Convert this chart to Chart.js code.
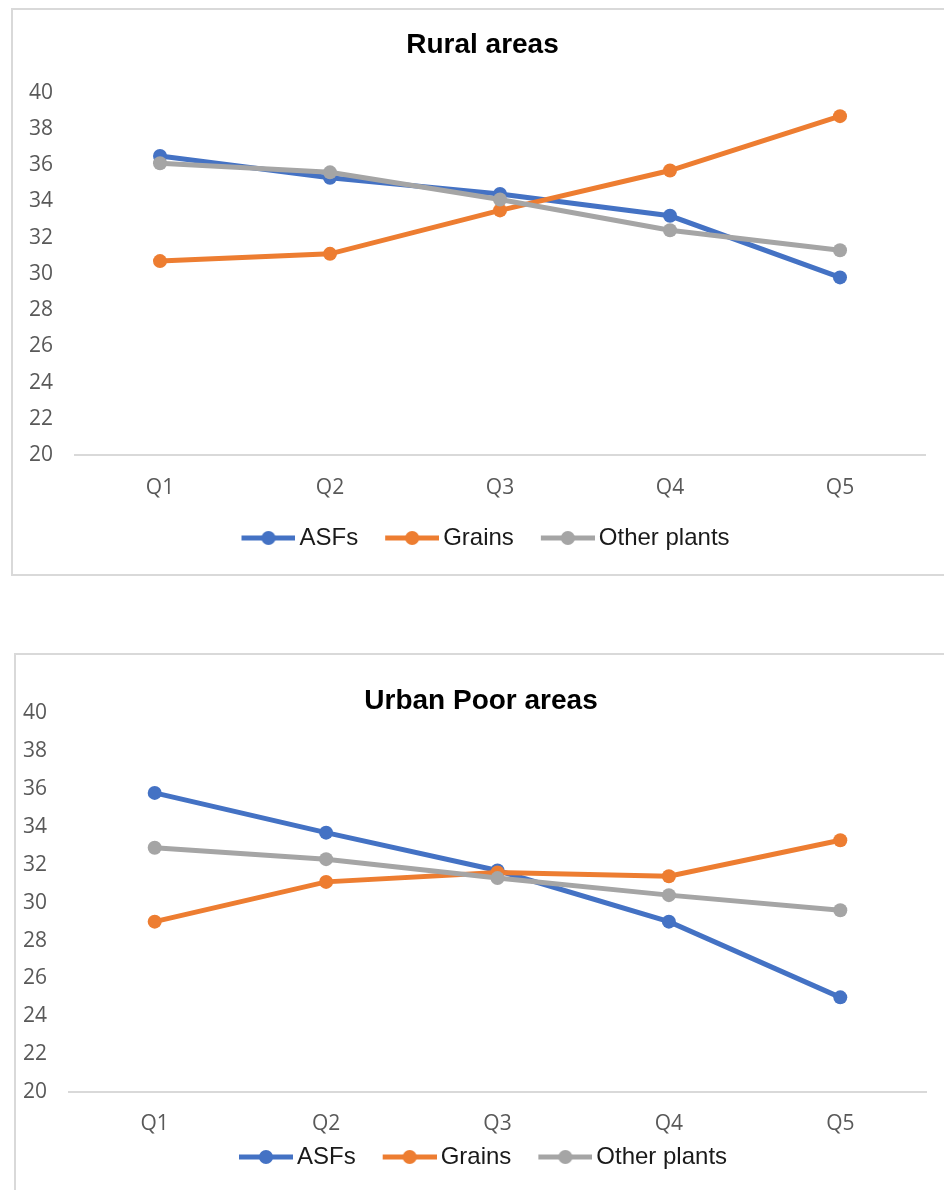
<!DOCTYPE html>
<html>
<head>
<meta charset="utf-8">
<script src="https://cdn.jsdelivr.net/npm/chart.js@4.4.1/dist/chart.umd.min.js"></script>
<style>
  html, body { margin: 0; padding: 0; background: #fff; }
  body { width: 944px; height: 1190px; overflow: hidden; position: relative; }
  .frame { position: absolute; border: 2px solid #d9d9d9; box-sizing: border-box; }
  #ruralFrame { left: 11px; top: 8px; width: 990px; height: 568px; }
  #urbanFrame { left: 14px; top: 653px; width: 990px; height: 600px; }
  canvas { position: absolute; left: 0; }
  #ruralChart { top: 0; }
  #urbanChart { top: 640px; }
</style>
</head>
<body>
<div class="frame" id="ruralFrame"></div>
<div class="frame" id="urbanFrame"></div>
<canvas id="ruralChart" width="944" height="560"></canvas>
<canvas id="urbanChart" width="944" height="550"></canvas>
<script>
const categories = ['Q1', 'Q2', 'Q3', 'Q4', 'Q5'];
const seriesNames = ['ASFs', 'Grains', 'Other plants'];
const seriesColors = ['#4472C4', '#ED7D31', '#A5A5A5'];

const ruralASFs = [36.5, 35.3, 34.4, 33.2, 29.8];
const ruralGrains = [30.7, 31.1, 33.5, 35.7, 38.7];
const ruralOther = [36.1, 35.6, 34.1, 32.4, 31.3];

const urbanASFs = [35.8, 33.7, 31.7, 29.0, 25.0];
const urbanGrains = [29.0, 31.1, 31.6, 31.4, 33.3];
const urbanOther = [32.9, 32.3, 31.3, 30.4, 29.6];

const yMin = 20, yMax = 40, yStep = 2;

// "line with a dot" legend marker; lead = empty space before the line
function legendIcon(color, lead) {
  const c = document.createElement('canvas');
  c.width = lead + 62;
  c.height = 16;
  const g = c.getContext('2d');
  const x0 = c.width - 54;
  g.strokeStyle = color;
  g.lineWidth = 5;
  g.beginPath();
  g.moveTo(x0, 8);
  g.lineTo(c.width, 8);
  g.stroke();
  g.fillStyle = color;
  g.beginPath();
  g.arc(c.width - 27, 8, 7, 0, Math.PI * 2);
  g.fill();
  return c;
}

function makeChart(id, title, values, box) {
  const ctx = document.getElementById(id).getContext('2d');
  const icons = seriesColors.map(c => legendIcon(c, box.iconLead));
  return new Chart(ctx, {
    type: 'line',
    data: {
      labels: categories,
      datasets: values.map((v, i) => ({
        label: seriesNames[i],
        data: v,
        borderColor: seriesColors[i],
        backgroundColor: seriesColors[i],
        borderWidth: 5,
        pointRadius: 7,
        pointHoverRadius: 7,
        pointBorderWidth: 0,
        tension: 0,
        // last series sits on top
        order: values.length - 1 - i
      }))
    },
    options: {
      responsive: false,
      animation: false,
      events: [],
      layout: {
        padding: { top: box.padTop, right: box.padRight, bottom: box.padBottom, left: box.padLeft }
      },
      plugins: {
        title: {
          display: true,
          text: title,
          color: '#000',
          font: { family: "'Liberation Sans', Arial, sans-serif", size: 28, weight: 'bold', lineHeight: box.titleLH },
          padding: { top: 0, bottom: box.titlePad }
        },
        legend: {
          position: 'bottom',
          labels: {
            usePointStyle: true,
            pointStyleWidth: box.iconLead + 46,
            padding: box.legendPad,
            color: '#1a1a1a',
            font: { family: "'Liberation Sans', Arial, sans-serif", size: 24 },
            generateLabels(chart) {
              const items = Chart.defaults.plugins.legend.labels.generateLabels(chart);
              items.forEach(it => { it.pointStyle = icons[it.datasetIndex]; });
              return items;
            },
            sort: (a, b) => a.datasetIndex - b.datasetIndex
          }
        },
        tooltip: { enabled: false }
      },
      scales: {
        x: {
          offset: true,
          grid: { display: false, drawTicks: false },
          border: { display: true, color: '#d9d9d9', width: 2 },
          ticks: {
            color: '#595959',
            mirror: box.xMirror,
            padding: box.xPad,
            font: { family: "'Open Sans', sans-serif", size: 21 }
          },
          afterFit(scale) { scale.height = box.xHeight; }
        },
        y: {
          min: yMin,
          max: yMax,
          grid: { display: false, drawTicks: false },
          border: { display: false },
          ticks: {
            stepSize: yStep,
            color: '#595959',
            // labels sit left of the narrow axis box
            mirror: true,
            padding: -46,
            font: { family: "'Open Sans', sans-serif", size: 21 }
          },
          afterFit(scale) { scale.width = box.yWidth; }
        }
      }
    }
  });
}

makeChart('ruralChart', 'Rural areas', [ruralASFs, ruralGrains, ruralOther], {
  padTop: 28, padRight: 19, padBottom: 0, padLeft: 40,
  titleLH: 1.2, titlePad: 31,
  yWidth: 35, legendPad: 21, iconLead: 6,
  xHeight: 50, xPad: 20, xMirror: false
});

makeChart('urbanChart', 'Urban Poor areas', [urbanASFs, urbanGrains, urbanOther], {
  padTop: 50, padRight: 18, padBottom: 11, padLeft: 36,
  titleLH: 0.8, titlePad: 1,
  yWidth: 33, legendPad: 23, iconLead: 4,
  xHeight: 30, xPad: -45, xMirror: true
});
</script>
</body>
</html>
